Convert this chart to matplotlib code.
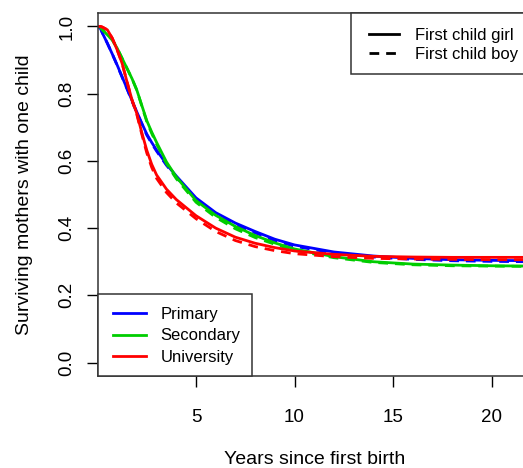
import matplotlib
matplotlib.use("Agg")
import matplotlib.pyplot as plt
from matplotlib.lines import Line2D
from matplotlib.legend_handler import HandlerBase

plt.rcParams['font.family'] = ['Liberation Sans', 'DejaVu Sans']

t = [0, 0.15, 0.25, 0.5, 0.75, 1.0, 1.25, 1.5, 1.75, 2.0, 2.25, 2.5, 2.75, 3.0, 3.5, 4.0,
     5, 6, 7, 8, 9, 10, 12, 14, 16, 18, 20, 22]

primary_girl = [1.0, 0.995, 0.98, 0.95, 0.918, 0.885, 0.85, 0.815, 0.78, 0.745, 0.712, 0.68,
                0.655, 0.632, 0.59, 0.555, 0.49, 0.446, 0.415, 0.39, 0.367, 0.35, 0.329,
                0.317, 0.31, 0.306, 0.304, 0.303]
primary_boy = [1.0, 0.995, 0.98, 0.95, 0.918, 0.884, 0.849, 0.814, 0.778, 0.743, 0.71, 0.677,
               0.652, 0.629, 0.587, 0.551, 0.486, 0.442, 0.411, 0.386, 0.363, 0.346, 0.326,
               0.314, 0.307, 0.303, 0.301, 0.300]
secondary_girl = [1.0, 0.998, 0.99, 0.975, 0.96, 0.935, 0.905, 0.875, 0.845, 0.81, 0.765, 0.72,
                  0.686, 0.655, 0.597, 0.552, 0.482, 0.438, 0.405, 0.378, 0.356, 0.338, 0.315,
                  0.3, 0.293, 0.29, 0.288, 0.287]
secondary_boy = [1.0, 0.998, 0.99, 0.975, 0.96, 0.935, 0.905, 0.875, 0.845, 0.81, 0.763, 0.717,
                 0.682, 0.65, 0.592, 0.547, 0.477, 0.432, 0.398, 0.372, 0.352, 0.334, 0.312,
                 0.298, 0.291, 0.288, 0.287, 0.286]
university_girl = [1.0, 1.0, 0.998, 0.99, 0.965, 0.93, 0.89, 0.835, 0.782, 0.74, 0.684, 0.632,
                   0.59, 0.558, 0.516, 0.485, 0.437, 0.4, 0.373, 0.355, 0.342, 0.332, 0.322,
                   0.316, 0.314, 0.313, 0.313, 0.313]
university_boy = [1.0, 1.0, 0.998, 0.99, 0.965, 0.93, 0.89, 0.835, 0.781, 0.737, 0.679, 0.624,
                  0.581, 0.548, 0.506, 0.475, 0.428, 0.39, 0.363, 0.345, 0.333, 0.324, 0.315,
                  0.31, 0.308, 0.307, 0.306, 0.306]

education = ["Primary", "Secondary", "University"]
colors = ["#0000FF", "#00CD00", "#FF0000"]
sex_labels = ["First child girl", "First child boy"]

x_ticks = [5, 10, 15, 20]
y_ticks = [0.0, 0.2, 0.4, 0.6, 0.8, 1.0]

DASH = (0, (3.5, 2.5))


class ShiftedLine(HandlerBase):
    """Legend line sample starting a little to the right inside its handle box."""

    def __init__(self, shift_pt):
        super().__init__()
        self.shift = shift_pt

    def create_artists(self, legend, orig_handle, xdescent, ydescent, width, height,
                       fontsize, trans):
        y = height / 2 - ydescent
        line = Line2D([self.shift - xdescent, width - xdescent], [y, y],
                      color=orig_handle.get_color(), lw=orig_handle.get_linewidth())
        if orig_handle.get_linestyle() != '-':
            line.set_linestyle(DASH)
        line.set_transform(trans)
        return [line]


W, H = 523, 468
fig = plt.figure(figsize=(W / 100, H / 100), dpi=100)
left_px, top_px, bottom_px = 97.5, 13, 376
px_per_unit = 19.7
xmax = 22
ax = fig.add_axes([left_px / W, (H - bottom_px) / H, xmax * px_per_unit / W,
                   (bottom_px - top_px) / H])

series = [(primary_girl, primary_boy), (secondary_girl, secondary_boy),
          (university_girl, university_boy)]
for (g, b), c in zip(series, colors):
    ax.plot(t, g, color=c, lw=2, solid_joinstyle='round')
    ax.plot(t, b, color=c, lw=2, ls=DASH)

ax.set_xlim(0, xmax)
ax.set_ylim(-0.04, 1.04)
ax.set_xticks(x_ticks)
ax.set_xticklabels([str(v) for v in x_ticks])
ax.set_yticks(y_ticks)
ax.set_yticklabels([f"{v:.1f}" for v in y_ticks], rotation=90, va='center')
ax.tick_params(axis='both', length=8, width=1, labelsize=13.5, direction='out')
ax.tick_params(axis='x', pad=15.5)
ax.tick_params(axis='y', pad=8)
for s in ax.spines.values():
    s.set_linewidth(1.1)
    s.set_color('#333333')

ax.set_xlabel("Years since first birth", fontsize=14, labelpad=18)
ax.set_ylabel("Surviving mothers with one child", fontsize=14, labelpad=18)

FS = 12
px2pt = 0.72

h1 = [Line2D([], [], color=c, lw=2) for c in colors]
leg1 = ax.legend(h1, education, loc='lower left', borderaxespad=0, fontsize=FS,
                 fancybox=False, edgecolor='#333333', framealpha=1,
                 handlelength=(37 * px2pt) / FS, handleheight=1.2,
                 handletextpad=(15 * px2pt) / FS, labelspacing=0.27,
                 borderpad=(11 * px2pt) / FS,
                 handler_map={Line2D: ShiftedLine(4 * px2pt)})
leg1.get_frame().set_linewidth(1.1)
ax.add_artist(leg1)

h2 = [Line2D([], [], color='black', lw=2),
      Line2D([], [], color='black', lw=2, ls='--')]
leg2 = ax.legend(h2, sex_labels, loc='upper right', borderaxespad=0, fontsize=FS,
                 fancybox=False, edgecolor='#333333', framealpha=1,
                 handlelength=(36 * px2pt) / FS, handleheight=1.2,
                 handletextpad=(16 * px2pt) / FS, labelspacing=0.12,
                 borderpad=(12.5 * px2pt) / FS,
                 handler_map={Line2D: ShiftedLine(5.5 * px2pt)})
leg2.get_frame().set_linewidth(1.1)

fig.savefig("out.png", dpi=100)
